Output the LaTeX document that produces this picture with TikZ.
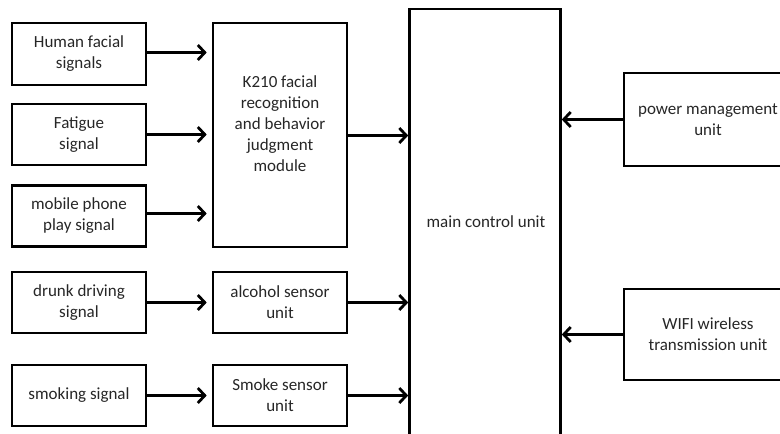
\documentclass[tikz,border=0pt]{standalone}
\usepackage{fontspec}
\setmainfont{Carlito}
\usetikzlibrary{arrows.meta}
\begin{document}
\begin{tikzpicture}[x=1pt,y=-1pt,
  blk/.style={draw=black,line width=2.6pt,rectangle,inner sep=0pt,align=center,
    font=\fontsize{17}{21}\selectfont,text=black!85},
  txt/.style={inner sep=0pt,align=center,font=\fontsize{17}{21}\selectfont,text=black!85},
  arr/.style={line width=2.8pt,-{Straight Barb[length=7pt,width=15pt,line width=2.8pt]}}]
\useasboundingbox (0,0) rectangle (780,434);
\clip (0,0) rectangle (780,434);
% left column
\node[blk,minimum width=134pt,minimum height=62pt] (h1) at (79,54) {Human facial\\signals};
\node[blk,minimum width=134pt,minimum height=61pt] (h2) at (79,134.5) {Fatigue\\signal};
\node[blk,minimum width=134pt,minimum height=61pt] (h3) at (79,216) {mobile phone\\play signal};
\node[blk,minimum width=134pt,minimum height=61pt] (h4) at (79,302.5) {drunk driving\\signal};
\node[blk,minimum width=134pt,minimum height=61pt] (h5) at (79,395.5) {smoking signal};
% middle column
\node[blk,minimum width=134pt,minimum height=224pt] (k) at (280,135) {};
\node[txt] (kt) at (280,124) {K210 facial\\recognition\\and behavior\\judgment\\module};
\node[blk,minimum width=134pt,minimum height=61pt] (al) at (280,302.5) {alcohol sensor\\unit};
\node[blk,minimum width=134pt,minimum height=61pt] (sm) at (280,395.5) {Smoke sensor\\unit};
% main
\node[blk,minimum width=151pt,minimum height=430pt] (mc) at (485,224) {};
\node[txt] (mct) at (486,222) {main control unit};
% right
\node[blk,minimum width=168pt,minimum height=93pt] (pw) at (708,119.5) {power management\\unit};
\node[blk,minimum width=168pt,minimum height=91pt] (wf) at (708,334.5) {WIFI wireless\\transmission unit};
% arrows
\draw[arr,shorten >=5pt] ([yshift=1.5pt]h1.east) -- ([yshift=1.5pt]h1.east -| k.west);
\draw[arr,shorten >=5pt] (h2.east) -- (h2.east -| k.west);
\draw[arr,shorten >=5pt] ([yshift=2.5pt]h3.east) -- ([yshift=2.5pt]h3.east -| k.west);
\draw[arr,shorten >=5pt] (h4.east) -- (al.west);
\draw[arr,shorten >=5pt] (h5.east) -- (sm.west);
\draw[arr] ([yshift=-0.5pt]k.east) -- ([yshift=-0.5pt]k.east -| mc.west);
\draw[arr] (al.east) -- (al.east -| mc.west);
\draw[arr] (sm.east) -- (sm.east -| mc.west);
\draw[arr] (pw.west) -- (pw.west -| mc.east);
\draw[arr] (wf.west) -- (wf.west -| mc.east);
\end{tikzpicture}
\end{document}
